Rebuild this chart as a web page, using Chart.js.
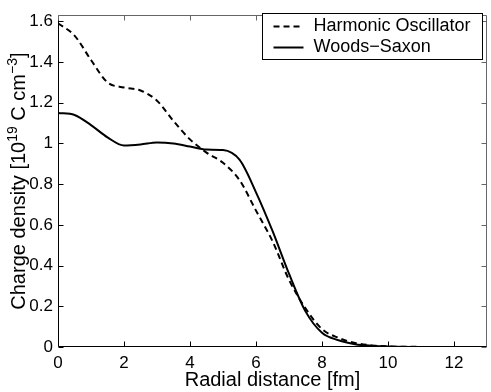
<!DOCTYPE html>
<html>
<head>
<meta charset="utf-8">
<script src="https://cdn.jsdelivr.net/npm/chart.js@4/dist/chart.umd.min.js"></script>
<style>
  html, body { margin: 0; padding: 0; background: #fff; }
  #wrap { width: 491px; height: 392px; }
</style>
</head>
<body>
<div id="wrap"><canvas id="densityChart" width="491" height="392"></canvas></div>
<script>
// radial distance [fm]
var radius = [0, 0.5, 1, 1.5, 2, 2.5, 3, 3.5, 4, 4.5, 5, 5.5, 6, 6.5, 7, 7.5, 8, 8.5, 9, 9.5, 10, 11, 12, 13];
// charge density [1e19 C cm^-3]
var harmonic = [1.59, 1.53, 1.41, 1.30, 1.275, 1.26, 1.21, 1.11, 1.02, 0.955, 0.905, 0.82, 0.67, 0.52, 0.33, 0.19, 0.088, 0.045, 0.02, 0.008, 0.003, 0.0005, 0, 0];
var woodsSaxon = [1.15, 1.14, 1.09, 1.03, 0.99, 0.995, 1.005, 1.0, 0.985, 0.97, 0.968, 0.92, 0.76, 0.57, 0.36, 0.175, 0.07, 0.033, 0.014, 0.006, 0.002, 0, 0, 0];
var seriesNames = ["Harmonic Oscillator", "Woods\u2212Saxon"];
var xTicks = [0, 2, 4, 6, 8, 10, 12];
var yTicks = [0, 0.2, 0.4, 0.6, 0.8, 1, 1.2, 1.4, 1.6];

var FONT = "'Liberation Sans', Arial, Helvetica, sans-serif";

function toPoints(xs, ys) {
  var pts = [];
  for (var i = 0; i < xs.length; i++) pts.push({x: xs[i], y: ys[i]});
  return pts;
}

// y title with real superscripts: [text, superscript?]
var yTitleParts = [
  ['Charge density [10', false],
  ['19', true],
  [' C cm', false],
  ['\u22123', true],
  [']', false]
];

// box round the axes with inward ticks, matlab style
var framePlugin = {
  id: 'frame',
  afterDatasetsDraw: function(chart) {
    var ctx = chart.ctx, a = chart.chartArea;
    var xs = chart.scales.x, ys = chart.scales.y;
    var L = Math.round(a.left) + 0.5, R = Math.round(a.right) - 0.5;
    var T = Math.round(a.top) + 0.5, B = Math.round(a.bottom) - 0.5;
    ctx.save();
    ctx.lineWidth = 1;
    ctx.strokeStyle = '#000';
    ctx.beginPath();
    ctx.moveTo(L, T); ctx.lineTo(L, B); ctx.lineTo(R, B);
    xTicks.forEach(function(v) {
      var px = Math.round(xs.getPixelForValue(v)) + 0.5;
      ctx.moveTo(px, B); ctx.lineTo(px, B - 5);
    });
    yTicks.forEach(function(v) {
      var py = Math.round(ys.getPixelForValue(v)) + 0.5;
      ctx.moveTo(L, py); ctx.lineTo(L + 5, py);
    });
    ctx.stroke();
    ctx.strokeStyle = '#666';
    ctx.beginPath();
    ctx.moveTo(L, T); ctx.lineTo(R, T); ctx.lineTo(R, B);
    xTicks.forEach(function(v) {
      var px = Math.round(xs.getPixelForValue(v)) + 0.5;
      ctx.moveTo(px, T); ctx.lineTo(px, T + 5);
    });
    yTicks.forEach(function(v) {
      var py = Math.round(ys.getPixelForValue(v)) + 0.5;
      ctx.moveTo(R, py); ctx.lineTo(R - 5, py);
    });
    ctx.stroke();
    ctx.restore();
  },
  afterDraw: function(chart) {
    var ctx = chart.ctx, a = chart.chartArea;
    ctx.save();
    // y axis title
    var mainFont = '20px ' + FONT, supFont = '14px ' + FONT;
    var total = 0;
    yTitleParts.forEach(function(p) {
      ctx.font = p[1] ? supFont : mainFont;
      total += ctx.measureText(p[0]).width;
    });
    ctx.translate(24.5, (a.top + a.bottom) / 2);
    ctx.rotate(-Math.PI / 2);
    ctx.fillStyle = '#000';
    ctx.textBaseline = 'alphabetic';
    ctx.textAlign = 'left';
    var cx = -total / 2;
    yTitleParts.forEach(function(p) {
      ctx.font = p[1] ? supFont : mainFont;
      ctx.fillText(p[0], cx, p[1] ? -8 : 0);
      cx += ctx.measureText(p[0]).width;
    });
    ctx.restore();

    // legend box in the upper right corner
    var bx = 262.5, by = 13.5, bw = 220, bh = 46;
    ctx.save();
    ctx.fillStyle = '#fff';
    ctx.fillRect(bx, by, bw, bh);
    ctx.strokeStyle = '#000';
    ctx.lineWidth = 1;
    ctx.strokeRect(bx, by, bw, bh);
    ctx.font = '18px ' + FONT;
    ctx.textBaseline = 'middle';
    ctx.fillStyle = '#000';
    chart.data.datasets.forEach(function(ds, i) {
      var y = by + 13 + i * 21;
      ctx.beginPath();
      ctx.lineWidth = ds.borderWidth;
      ctx.setLineDash(ds.borderDash || []);
      ctx.moveTo(bx + 11, y);
      ctx.lineTo(bx + 41, y);
      ctx.stroke();
      ctx.setLineDash([]);
      ctx.fillText(ds.label, bx + 51, y);
    });
    ctx.restore();
  }
};

var ctx = document.getElementById('densityChart').getContext('2d');
var densityChart = new Chart(ctx, {
  type: 'scatter',
  data: {
    datasets: [
      {
        label: seriesNames[0],
        data: toPoints(radius, harmonic),
        showLine: true,
        borderColor: '#000',
        borderWidth: 2,
        borderDash: [6, 4],
        pointRadius: 0,
        cubicInterpolationMode: 'monotone'
      },
      {
        label: seriesNames[1],
        data: toPoints(radius, woodsSaxon),
        showLine: true,
        borderColor: '#000',
        borderWidth: 2,
        pointRadius: 0,
        cubicInterpolationMode: 'monotone'
      }
    ]
  },
  options: {
    responsive: false,
    animation: false,
    layout: { padding: { top: 9, right: 4, left: 0, bottom: 0 } },
    plugins: {
      legend: { display: false },
      tooltip: { enabled: false }
    },
    scales: {
      x: {
        type: 'linear',
        min: 0,
        max: 13,
        grid: { display: false, drawTicks: false },
        border: { display: false },
        ticks: {
          stepSize: 2,
          includeBounds: false,
          color: '#000',
          padding: 6,
          maxRotation: 0,
          font: { family: FONT, size: 17 }
        },
        title: {
          display: true,
          text: 'Radial distance [fm]',
          color: '#000',
          font: { family: FONT, size: 20 },
          padding: { top: 0, bottom: 0 }
        },
        afterFit: function(scale) { scale.height = 45; }
      },
      y: {
        type: 'linear',
        min: 0,
        max: 1.63,
        grid: { display: false, drawTicks: false },
        border: { display: false },
        ticks: {
          stepSize: 0.2,
          includeBounds: false,
          color: '#000',
          padding: 5,
          font: { family: FONT, size: 17 },
          callback: function(v) { return String(Math.round(v * 10) / 10); }
        },
        title: { display: false },
        afterFit: function(scale) { scale.width = 58; }
      }
    }
  },
  plugins: [framePlugin]
});
</script>
</body>
</html>
